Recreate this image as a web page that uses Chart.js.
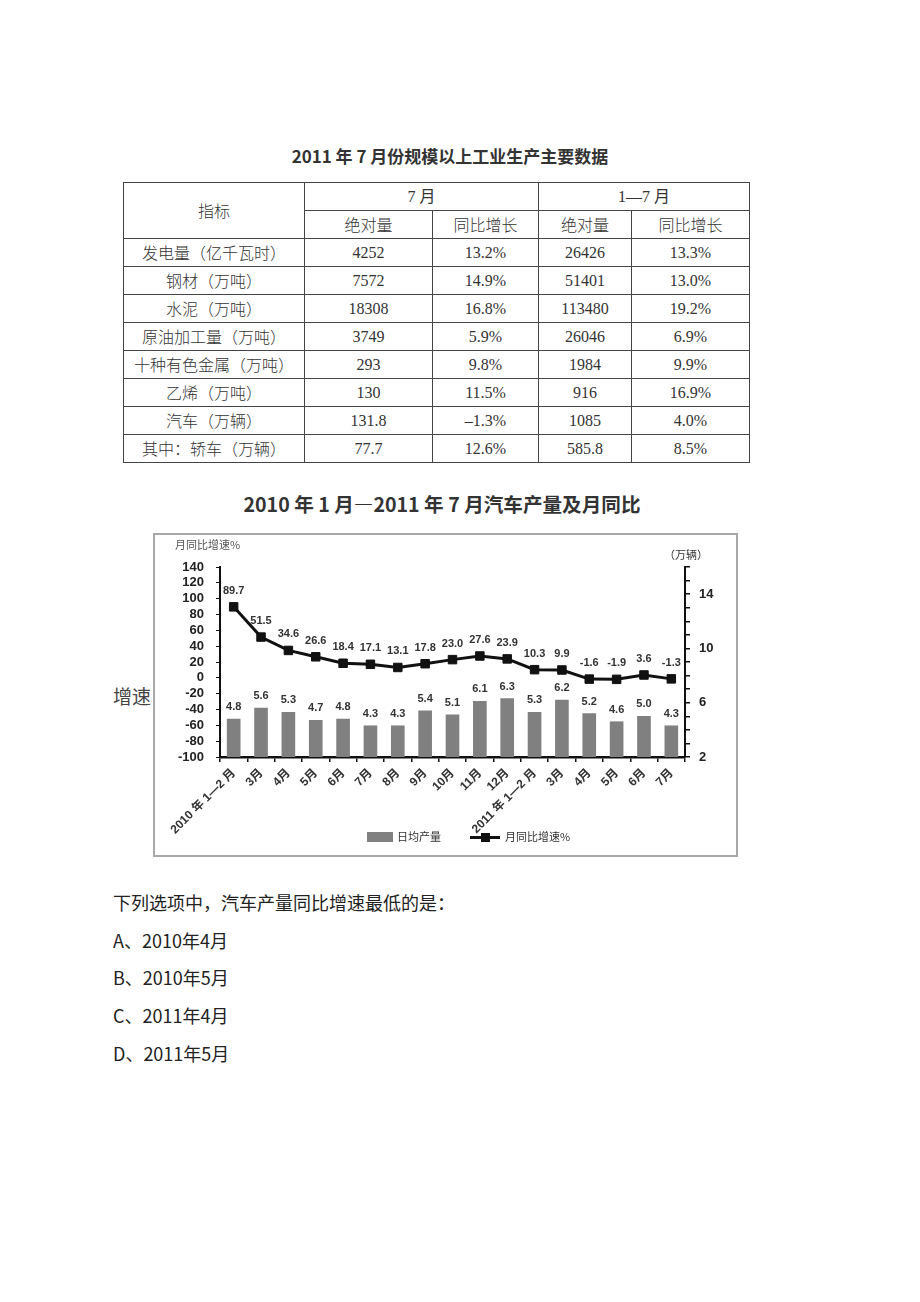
<!DOCTYPE html>
<html lang="zh">
<head>
<meta charset="UTF-8">
<title>2010年1月—2011年7月汽车产量及月同比</title>
<script src="https://cdn.jsdelivr.net/npm/chart.js"></script>
<style>
    body {
        margin: 0;
        background: #fff;
        width: 920px;
        height: 1302px;
        position: relative;
        font-family: "Noto Sans CJK SC", sans-serif;
        color: #222;
    }

    .abs { position: absolute; white-space: nowrap; }

    .title {
        font-weight: bold;
        color: #333;
        line-height: 1;
    }

    table {
        position: absolute;
        left: 123px;
        top: 182px;
        width: 626px;
        border-collapse: collapse;
        font-family: "Liberation Serif", "Noto Sans CJK SC", serif;
        font-size: 16px;
        color: #333;
        table-layout: fixed;
    }

    td {
        border: 1px solid #444;
        height: 27px;
        padding: 0;
        text-align: center;
        line-height: 27px;
    }

    td.name { font-family: "Noto Sans CJK SC", serif; font-weight: 300; }

    .chart-box {
        position: absolute;
        left: 153px;
        top: 533px;
        width: 581px;
        height: 320px;
        border: 2px solid #a8a8a8;
    }

    #chartWrap {
        position: absolute;
        left: 153px;
        top: 533px;
        width: 585px;
        height: 324px;
    }

    .small { font-size: 11px; color: #555; line-height: 1; }
    .q { font-size: 18px; line-height: 1; color: #222; }
</style>
</head>
<body>
    <div class="abs title" style="left:0; width:900px; text-align:center; top:147px; font-size:17px;">2011 年 7 月份规模以上工业生产主要数据</div>

    <table id="dataTable">
        <colgroup>
            <col style="width:181px"><col style="width:128px"><col style="width:106px"><col style="width:93px"><col style="width:118px">
        </colgroup>
        <tr><td rowspan="2" class="name">指标</td><td colspan="2">7 月</td><td colspan="2">1—7 月</td></tr>
        <tr><td class="name">绝对量</td><td class="name">同比增长</td><td class="name">绝对量</td><td class="name">同比增长</td></tr>
    </table>

    <div class="abs title" style="left:0; width:884px; text-align:center; top:494px; font-size:19.6px;">2010 年 1 月—2011 年 7 月汽车产量及月同比</div>

    <div class="abs" style="left:113px; top:686px; font-size:19px; color:#444; line-height:1;">增速</div>

    <div class="chart-box"></div>
    <div id="chartWrap"><canvas id="carChart"></canvas></div>

    <div class="abs small" style="left:175px; top:539px;">月同比增速%</div>
    <div class="abs small" style="left:664px; top:549px; color:#333;">（万辆）</div>

    <div class="abs" style="left:367px; top:832px; width:26px; height:10px; background:#808080;"></div>
    <div class="abs small" style="left:397px; top:831px; color:#333;">日均产量</div>
    <div class="abs" style="left:470px; top:836px; width:30px; height:3px; background:#111;"></div>
    <div class="abs" style="left:481px; top:833px; width:9px; height:9px; background:#111;"></div>
    <div class="abs small" style="left:505px; top:831px; color:#333;">月同比增速%</div>

    <div class="abs q" style="left:113px; top:893px;">下列选项中，汽车产量同比增速最低的是：</div>
    <div class="abs q" style="left:113px; top:931px;">A、2010年4月</div>
    <div class="abs q" style="left:113px; top:968px;">B、2010年5月</div>
    <div class="abs q" style="left:113px; top:1006px;">C、2011年4月</div>
    <div class="abs q" style="left:113px; top:1044px;">D、2011年5月</div>

<script>
    // table rows
    const indicators = ['发电量（亿千瓦时）', '钢材（万吨）', '水泥（万吨）', '原油加工量（万吨）', '十种有色金属（万吨）', '乙烯（万吨）', '汽车（万辆）', '其中：轿车（万辆）'];
    const julyAmount = ['4252', '7572', '18308', '3749', '293', '130', '131.8', '77.7'];
    const julyGrowth = ['13.2%', '14.9%', '16.8%', '5.9%', '9.8%', '11.5%', '–1.3%', '12.6%'];
    const ytdAmount = ['26426', '51401', '113480', '26046', '1984', '916', '1085', '585.8'];
    const ytdGrowth = ['13.3%', '13.0%', '19.2%', '6.9%', '9.9%', '16.9%', '4.0%', '8.5%'];

    // chart data
    const categories = ['2010 年 1—2 月', '3月', '4月', '5月', '6月', '7月', '8月', '9月', '10月', '11月', '12月',
        '2011 年 1—2 月', '3月', '4月', '5月', '6月', '7月'];
    const dailyOutput = [4.8, 5.6, 5.3, 4.7, 4.8, 4.3, 4.3, 5.4, 5.1, 6.1, 6.3, 5.3, 6.2, 5.2, 4.6, 5.0, 4.3];
    const yoyGrowth = [89.7, 51.5, 34.6, 26.6, 18.4, 17.1, 13.1, 17.8, 23.0, 27.6, 23.9, 10.3, 9.9, -1.6, -1.9, 3.6, -1.3];
    const growthTicks = { min: -100, max: 140, step: 20 };
    const outputTicks = { min: 2, max: 16, step: 1, labels: [2, 6, 10, 14] };

    const table = document.getElementById('dataTable');
    indicators.forEach((name, i) => {
        const tr = document.createElement('tr');
        tr.innerHTML = `<td class="name">${name}</td><td>${julyAmount[i]}</td><td>${julyGrowth[i]}</td><td>${ytdAmount[i]}</td><td>${ytdGrowth[i]}</td>`;
        table.appendChild(tr);
    });

    Chart.defaults.font.family = "'Liberation Sans', 'Noto Sans CJK SC', sans-serif";
    Chart.defaults.color = '#222';

    // value labels over bars and points
    const valueLabels = {
        id: 'valueLabels',
        afterDatasetsDraw(chart) {
            const ctx = chart.ctx;
            ctx.save();
            ctx.font = "bold 11px 'Liberation Sans', sans-serif";
            ctx.fillStyle = '#333';
            ctx.textAlign = 'center';
            ctx.textBaseline = 'middle';
            chart.data.datasets.forEach((ds, di) => {
                const meta = chart.getDatasetMeta(di);
                meta.data.forEach((el, i) => {
                    const off = ds.type === 'line' ? 16 : 12;
                    ctx.fillText(ds.data[i].toFixed(1), el.x, el.y - off);
                });
            });
            ctx.restore();
        }
    };

    new Chart(document.getElementById('carChart'), {
        type: 'bar',
        data: {
            labels: categories,
            datasets: [{
                type: 'line',
                label: '月同比增速%',
                data: yoyGrowth,
                yAxisID: 'y',
                borderColor: '#111',
                backgroundColor: '#111',
                borderWidth: 3,
                pointStyle: 'rect',
                pointRadius: 6,
                pointBorderWidth: 1,
                tension: 0,
                order: 1
            }, {
                type: 'bar',
                label: '日均产量',
                data: dailyOutput,
                yAxisID: 'y1',
                backgroundColor: '#808080',
                barThickness: 13,
                order: 2
            }]
        },
        options: {
            responsive: true,
            maintainAspectRatio: false,
            animation: false,
            layout: { padding: { top: 34, left: 0, right: 0, bottom: 0 } },
            plugins: { legend: { display: false }, tooltip: { enabled: false } },
            scales: {
                x: {
                    offset: true,
                    border: { color: '#111', width: 2.5 },
                    grid: { offset: true, drawOnChartArea: false, drawTicks: true, tickLength: 5, color: '#111', lineWidth: 1.5 },
                    ticks: {
                        font: { size: 12, weight: 'bold' }, color: '#333',
                        maxRotation: 45, minRotation: 45, autoSkip: false, padding: 4
                    },
                    afterFit(scale) { scale.height = 100; }
                },
                y: {
                    position: 'left',
                    min: growthTicks.min, max: growthTicks.max,
                    border: { color: '#111', width: 2 },
                    grid: { drawOnChartArea: false, drawTicks: true, tickLength: 4, color: '#111' },
                    ticks: { stepSize: growthTicks.step, autoSkip: false, font: { size: 13, weight: 'bold' }, color: '#222', padding: 12 },
                    afterFit(scale) { scale.width = 67; }
                },
                y1: {
                    position: 'right',
                    min: outputTicks.min, max: outputTicks.max,
                    border: { color: '#111', width: 2 },
                    grid: { drawOnChartArea: false, drawTicks: true, tickLength: 5, color: '#111', lineWidth: 1.5 },
                    ticks: {
                        stepSize: outputTicks.step, autoSkip: false, font: { size: 13, weight: 'bold' }, color: '#222', padding: 9,
                        callback: v => outputTicks.labels.includes(v) ? v : ''
                    },
                    afterFit(scale) { scale.width = 53; }
                }
            }
        },
        plugins: [valueLabels]
    });
</script>
</body>
</html>
